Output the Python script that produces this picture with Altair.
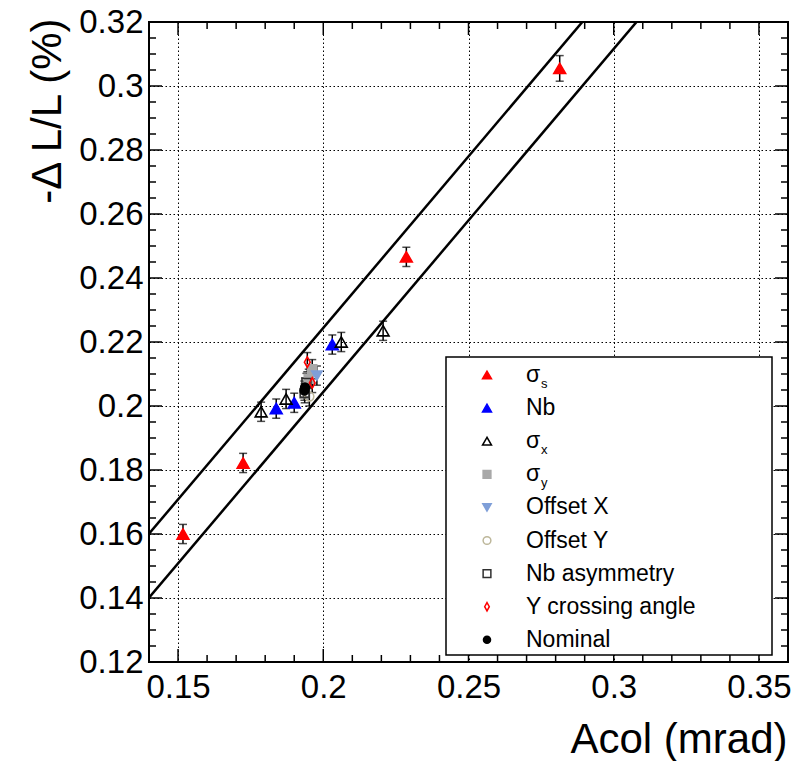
import altair as alt
import numpy as np
import pandas as pd

# ---- measurements: beam-beam acolinearity vs luminosity loss ----
sigma_s_x = [0.1517, 0.1724, 0.2286, 0.2814]
sigma_s_y = [0.1600, 0.1822, 0.2466, 0.3055]
sigma_s_err = [0.0030, 0.0030, 0.0030, 0.0040]

nb_x = [0.1838, 0.1900, 0.2031]
nb_y = [0.1992, 0.2010, 0.2192]
nb_err = [0.0030, 0.0030, 0.0030]

sigma_x_x = [0.1786, 0.1872, 0.2062, 0.2206]
sigma_x_y = [0.1982, 0.2022, 0.2200, 0.2235]
sigma_x_err = [0.0030, 0.0030, 0.0030, 0.0030]

sigma_y_x = [0.1962, 0.1950]
sigma_y_y = [0.2115, 0.2085]
sigma_y_err = [0.0030, 0.0030]

offset_x_x = [0.1978]
offset_x_y = [0.2095]
offset_x_err = [0.0030]

offset_y_x = [0.1952]
offset_y_y = [0.2030]
offset_y_err = [0.0030]

nb_asym_x = [0.1942, 0.1936]
nb_asym_y = [0.2072, 0.2040]
nb_asym_err = [0.0030, 0.0030]

ycross_x = [0.1945, 0.1962]
ycross_y = [0.2137, 0.2072]
ycross_err = [0.0030, 0.0030]

nominal_x = [0.1937, 0.1935]
nominal_y = [0.2058, 0.2048]
nominal_err = [0.0030, 0.0030]

# band around the linear correlation: -dL/L = slope * Acol +/- offset
FIT_SLOPE = 1.072
BAND_OFFSETS = [0.010, -0.010]

# axes
X_DOMAIN = [0.14, 0.36]
Y_DOMAIN = [0.12, 0.32]
x_major = [0.15, 0.20, 0.25, 0.30, 0.35]
y_major = [0.12, 0.14, 0.16, 0.18, 0.20, 0.22, 0.24, 0.26, 0.28, 0.30, 0.32]

# ---- layout ----
W, H = 639, 640
FONT = "Liberation Sans"
THIN_DIAMOND = "M0,-1L0.55,0L0,1L-0.55,0Z"

# name, legend label, subscript, shape, fill, stroke, plot size, legend size
styles = [
    ("sigma_s", "σ", "s", "triangle-up", "#ff0000", "#ff0000", 140, 80),
    ("nb", "Nb", "", "triangle-up", "#0000ff", "#0000ff", 140, 80),
    ("sigma_x", "σ", "x", "triangle-up", "transparent", "#000000", 140, 80),
    ("sigma_y", "σ", "y", "square", "#a8a8a8", "#a8a8a8", 80, 60),
    ("offset_x", "Offset X", "", "triangle-down", "#7f9fd8", "#7f9fd8", 110, 70),
    ("offset_y", "Offset Y", "", "circle", "transparent", "#bdb79a", 80, 60),
    ("nb_asym", "Nb asymmetry", "", "square", "transparent", "#303030", 80, 60),
    ("ycross", "Y crossing angle", "", THIN_DIAMOND, "transparent", "#ff0000", 110, 70),
    ("nominal", "Nominal", "", "circle", "#000000", "#000000", 75, 50),
]

series = {
    "sigma_s": (sigma_s_x, sigma_s_y, sigma_s_err),
    "nb": (nb_x, nb_y, nb_err),
    "sigma_x": (sigma_x_x, sigma_x_y, sigma_x_err),
    "sigma_y": (sigma_y_x, sigma_y_y, sigma_y_err),
    "offset_x": (offset_x_x, offset_x_y, offset_x_err),
    "offset_y": (offset_y_x, offset_y_y, offset_y_err),
    "nb_asym": (nb_asym_x, nb_asym_y, nb_asym_err),
    "ycross": (ycross_x, ycross_y, ycross_err),
    "nominal": (nominal_x, nominal_y, nominal_err),
}

rows = []
for order, (name, label, sub, shape, fill, stroke, size, _) in enumerate(styles):
    xs, ys, es = series[name]
    for x, y, e in zip(xs, ys, es):
        rows.append(dict(series=name, order=order, x=x, y=y, err=e,
                         shape=shape, fill=fill, stroke=stroke, size=size))
points = pd.DataFrame(rows)

x_scale = alt.Scale(domain=X_DOMAIN, nice=False, zero=False)
y_scale = alt.Scale(domain=Y_DOMAIN, nice=False, zero=False)

x_axis = alt.Axis(
    values=x_major, format="~g", grid=True, gridDash=[1.5, 2.5], gridColor="#000000",
    gridWidth=1, gridOpacity=1, ticks=False, domain=False,
    labelFont=FONT, labelFontSize=33, labelColor="#000000", labelPadding=9,
    labelFlush=False, labelOverlap=False,
    title="Acol (mrad)", titleFont=FONT, titleFontSize=42, titleFontWeight="normal",
    titleColor="#000000", titleAlign="right", titleBaseline="alphabetic",
    titleX=W - 1, titleY=90,
)
y_axis = alt.Axis(
    values=y_major, format="~g", grid=True, gridDash=[1.5, 2.5], gridColor="#000000",
    gridWidth=1, gridOpacity=1, ticks=False, domain=False,
    labelFont=FONT, labelFontSize=33, labelColor="#000000", labelPadding=6,
    labelFlush=False, labelOverlap=False,
    title="-Δ L/L (%)", titleFont=FONT, titleFontSize=42, titleFontWeight="normal",
    titleColor="#000000", titleAngle=270, titleAlign="right", titleBaseline="alphabetic",
    titleX=-89, titleY=-4,
)

# correlation band lines
line_x = np.array(X_DOMAIN)
band_rows = []
for k, off in enumerate(BAND_OFFSETS):
    for xv in line_x:
        band_rows.append(dict(band=k, x=float(xv), y=float(FIT_SLOPE * xv + off)))
band = pd.DataFrame(band_rows)

lines = alt.Chart(band).mark_line(color="#000000", strokeWidth=2.5, clip=True).encode(
    x=alt.X("x:Q", scale=x_scale, axis=x_axis),
    y=alt.Y("y:Q", scale=y_scale, axis=y_axis),
    detail="band:N",
)

# error bars with end caps
err_base = alt.Chart(points).transform_calculate(
    lo="datum.y - datum.err", hi="datum.y + datum.err"
)
err_rule = err_base.mark_rule(strokeWidth=1.5, color="#000000").encode(
    x=alt.X("x:Q", scale=x_scale, axis=None),
    y=alt.Y("lo:Q", scale=y_scale, axis=None),
    y2="hi:Q",
)
cap_lo = err_base.mark_tick(orient="horizontal", size=8, thickness=1.5, color="#000000").encode(
    x=alt.X("x:Q", scale=x_scale, axis=None),
    y=alt.Y("lo:Q", scale=y_scale, axis=None),
)
cap_hi = err_base.mark_tick(orient="horizontal", size=8, thickness=1.5, color="#000000").encode(
    x=alt.X("x:Q", scale=x_scale, axis=None),
    y=alt.Y("hi:Q", scale=y_scale, axis=None),
)

markers = alt.Chart(points).mark_point(strokeWidth=1.6, opacity=1, fillOpacity=1).encode(
    x=alt.X("x:Q", scale=x_scale, axis=None),
    y=alt.Y("y:Q", scale=y_scale, axis=None),
    shape=alt.Shape("shape:N", scale=None),
    fill=alt.Fill("fill:N", scale=None),
    stroke=alt.Stroke("stroke:N", scale=None),
    size=alt.Size("size:Q", scale=None),
    order=alt.Order("order:Q"),
)

# inward-pointing ticks on all four sides of the frame
MAJOR_LEN, MINOR_LEN = 13, 7
x_ticks = pd.DataFrame({"v": np.round(np.arange(0.14, 0.36001, 0.01), 3)})
x_ticks["len"] = np.where(np.isin(x_ticks["v"], np.round(x_major, 3)), MAJOR_LEN, MINOR_LEN)
x_ticks["far"] = H - x_ticks["len"]
y_ticks = pd.DataFrame({"v": np.round(np.arange(0.12, 0.32001, 0.005), 4)})
y_ticks["len"] = np.where(np.isin(y_ticks["v"], np.round(y_major, 4)), MAJOR_LEN, MINOR_LEN)
y_ticks["far"] = W - y_ticks["len"]

tick_style = dict(color="#000000", strokeWidth=1.5)
bottom_ticks = alt.Chart(x_ticks).mark_rule(**tick_style).encode(
    x=alt.X("v:Q", scale=x_scale, axis=None),
    y=alt.Y("far:Q", scale=None, axis=None), y2=alt.value(H),
)
top_ticks = alt.Chart(x_ticks).mark_rule(**tick_style).encode(
    x=alt.X("v:Q", scale=x_scale, axis=None),
    y=alt.Y("len:Q", scale=None, axis=None), y2=alt.value(0),
)
left_ticks = alt.Chart(y_ticks).mark_rule(**tick_style).encode(
    y=alt.Y("v:Q", scale=y_scale, axis=None),
    x=alt.X("len:Q", scale=None, axis=None), x2=alt.value(0),
)
right_ticks = alt.Chart(y_ticks).mark_rule(**tick_style).encode(
    y=alt.Y("v:Q", scale=y_scale, axis=None),
    x=alt.X("far:Q", scale=None, axis=None), x2=alt.value(W),
)

# legend box
BOX = dict(x0=297, x1=623, y0=335, y1=633)
legend_box = alt.Chart(pd.DataFrame({"k": [0]})).mark_rect(
    fill="#ffffff", stroke="#000000", strokeWidth=1.5
).encode(
    x=alt.value(BOX["x0"]), x2=alt.value(BOX["x1"]),
    y=alt.value(BOX["y0"]), y2=alt.value(BOX["y1"]),
)

SYM_X, TEXT_X, ROW0, ROW_STEP = 338, 377, 353, 33.1
leg = pd.DataFrame([
    dict(i=i, label=label, sub=sub, shape=shape, fill=fill, stroke=stroke, size=lsize)
    for i, (_, label, sub, shape, fill, stroke, _, lsize) in enumerate(styles)
])
leg["ty"] = ROW0 + leg["i"] * ROW_STEP
leg["sx"] = SYM_X
leg["tx"] = TEXT_X
leg["subx"] = TEXT_X + 15
leg["suby"] = leg["ty"] + 9

legend_syms = alt.Chart(leg).mark_point(strokeWidth=1.5, opacity=1, fillOpacity=1).encode(
    x=alt.X("sx:Q", scale=None, axis=None),
    y=alt.Y("ty:Q", scale=None, axis=None),
    shape=alt.Shape("shape:N", scale=None),
    fill=alt.Fill("fill:N", scale=None),
    stroke=alt.Stroke("stroke:N", scale=None),
    size=alt.Size("size:Q", scale=None),
)
legend_text = alt.Chart(leg).mark_text(
    align="left", baseline="middle", font=FONT, fontSize=23, color="#000000"
).encode(
    x=alt.X("tx:Q", scale=None, axis=None),
    y=alt.Y("ty:Q", scale=None, axis=None),
    text="label:N",
)
legend_sub = alt.Chart(leg[leg["sub"] != ""]).mark_text(
    align="left", baseline="middle", font=FONT, fontSize=13, color="#000000"
).encode(
    x=alt.X("subx:Q", scale=None, axis=None),
    y=alt.Y("suby:Q", scale=None, axis=None),
    text="sub:N",
)

chart = alt.layer(
    lines, err_rule, cap_lo, cap_hi, markers,
    bottom_ticks, top_ticks, left_ticks, right_ticks,
    legend_box, legend_syms, legend_text, legend_sub,
).resolve_scale(
    x="independent", y="independent"
).resolve_axis(
    x="independent", y="independent"
).properties(
    width=W, height=H,
    autosize=alt.AutoSizeParams(type="none"),
    padding={"left": 149, "top": 22, "right": 805 - 149 - W, "bottom": 761 - 22 - H},
    background="#ffffff",
).configure_view(stroke="#000000", strokeWidth=2)

chart.save("out.html", embed_options={"renderer": "svg", "actions": False})
